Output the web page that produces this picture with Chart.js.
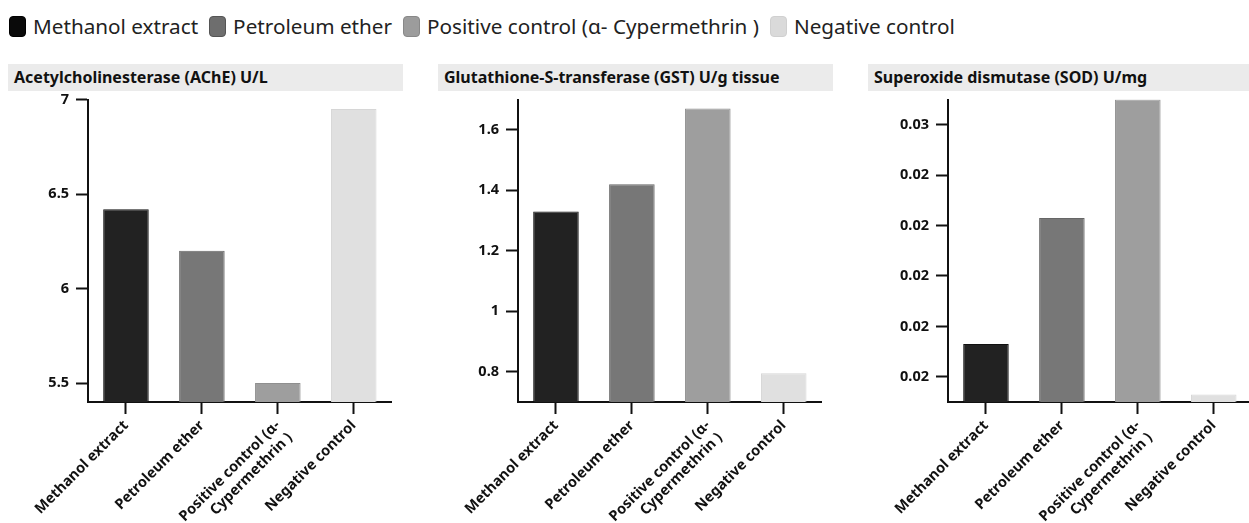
<!DOCTYPE html>
<html>
<head>
<meta charset="utf-8">
<script src="https://cdn.jsdelivr.net/npm/chart.js@4.4.1/dist/chart.umd.min.js"></script>
<style>
  html, body { margin: 0; padding: 0; background: #fff; }
  body { width: 1249px; height: 523px; overflow: hidden; position: relative; font-family: "Noto Sans", sans-serif; }
  #legend { position: absolute; left: 9px; top: 12px; display: flex; align-items: center; white-space: nowrap; font-size: 20.7px; color: #222; }
  .item { display: flex; align-items: center; margin-right: 11px; }
  .swatch { width: 15px; height: 19px; border-radius: 4px; border: 1px solid; margin-right: 7px; box-sizing: content-box; }
  .panel { position: absolute; top: 64px; width: 395px; height: 459px; }
  .ptitle { height: 27px; background: #ebebeb; font-weight: 700; font-size: 16px; line-height: 27px; padding-left: 6px; color: #111; white-space: nowrap; }
  .panel canvas { position: absolute; left: 0; top: 28px; }
</style>
</head>
<body>
<div id="legend"></div>
<div id="panels"></div>
<script>
// Treatment groups (x categories) and legend entries
const categories = ['Methanol extract', 'Petroleum ether', ['Positive control (α-', 'Cypermethrin )'], 'Negative control'];
const legendLabels = ['Methanol extract', 'Petroleum ether', 'Positive control (α- Cypermethrin )', 'Negative control'];

// Enzyme activities per group
const acheValues = [6.42, 6.2, 5.5, 6.95];
const gstValues = [1.33, 1.42, 1.67, 0.795];
const sodValues = [0.0213, 0.0263, 0.031, 0.0193];

// Y-axis tick values and their printed labels
const acheTicks = [5.5, 6, 6.5, 7];
const acheTickLabels = ['5.5', '6', '6.5', '7'];
const gstTicks = [0.8, 1, 1.2, 1.4, 1.6];
const gstTickLabels = ['0.8', '1', '1.2', '1.4', '1.6'];
const sodTicks = [0.02, 0.022, 0.024, 0.026, 0.028, 0.03];
const sodTickLabels = ['0.02', '0.02', '0.02', '0.02', '0.02', '0.03'];

// Panel titles
const panelTitles = ['Acetylcholinesterase (AChE) U/L', 'Glutathione-S-transferase (GST) U/g tissue', 'Superoxide dismutase (SOD) U/mg'];

// Group colours
const fillColors = ['#222222', '#777777', '#9e9e9e', '#e0e0e0'];
const edgeColors = ['#111111', '#666666', '#8f8f8f', '#d6d6d6'];
const swatchColors = ['#0a0a0a', '#6e6e6e', '#9c9c9c', '#dadada'];
const swatchEdges = ['#000000', '#555555', '#888888', '#d0d0d0'];

// Legend
const legend = document.getElementById('legend');
legendLabels.forEach((label, i) => {
  const item = document.createElement('div');
  item.className = 'item';
  const sw = document.createElement('span');
  sw.className = 'swatch';
  sw.style.background = swatchColors[i];
  sw.style.borderColor = swatchEdges[i];
  const tx = document.createElement('span');
  tx.textContent = label;
  item.appendChild(sw);
  item.appendChild(tx);
  legend.appendChild(item);
});

const panels = [
  { title: panelTitles[0], values: acheValues, min: 5.4, max: 7, ticks: acheTicks, labels: acheTickLabels },
  { title: panelTitles[1], values: gstValues, min: 0.7, max: 1.7, ticks: gstTicks, labels: gstTickLabels },
  { title: panelTitles[2], values: sodValues, min: 0.019, max: 0.031, ticks: sodTicks, labels: sodTickLabels }
];

const axisColor = '#111111';
const tickFont = { family: 'Noto Sans', weight: 'bold', size: 14.5 };
const holder = document.getElementById('panels');

panels.forEach((p, idx) => {
  const panel = document.createElement('div');
  panel.className = 'panel';
  panel.style.left = (8 + idx * 430) + 'px';
  const head = document.createElement('div');
  head.className = 'ptitle';
  head.textContent = p.title;
  const canvas = document.createElement('canvas');
  canvas.width = 395;
  canvas.height = 431;
  panel.appendChild(head);
  panel.appendChild(canvas);
  holder.appendChild(panel);

  new Chart(canvas, {
    type: 'bar',
    data: {
      labels: categories,
      datasets: [{
        data: p.values,
        backgroundColor: fillColors,
        borderColor: edgeColors,
        borderWidth: 1,
        barPercentage: 0.6,
        categoryPercentage: 1
      }]
    },
    options: {
      responsive: false,
      animation: false,
      devicePixelRatio: 1,
      layout: { padding: { top: 7.5, right: 11.3, left: 0, bottom: 0 } },
      plugins: { legend: { display: false }, tooltip: { enabled: false }, title: { display: false } },
      scales: {
        x: {
          grid: { offset: false, drawOnChartArea: false, drawTicks: true, tickLength: 12, tickWidth: 2, tickColor: axisColor },
          border: { display: true, color: axisColor, width: 2 },
          ticks: { minRotation: 45, maxRotation: 45, autoSkip: false, font: tickFont, color: '#111', padding: 3 },
          afterFit(scale) { scale.height = 121; scale.paddingLeft = 0; scale.paddingRight = 0; }
        },
        y: {
          min: p.min,
          max: p.max,
          grid: { drawOnChartArea: false, drawTicks: true, tickLength: 12, tickWidth: 2, tickColor: axisColor },
          border: { display: true, color: axisColor, width: 2 },
          ticks: {
            font: tickFont,
            color: '#111',
            padding: 7,
            callback: (value) => p.labels[p.ticks.indexOf(value)]
          },
          afterBuildTicks(scale) { scale.ticks = p.ticks.map(v => ({ value: v })); },
          afterFit(scale) { scale.width = 80; scale.paddingTop = 0; scale.paddingBottom = 0; }
        }
      }
    }
  });
});
</script>
</body>
</html>
